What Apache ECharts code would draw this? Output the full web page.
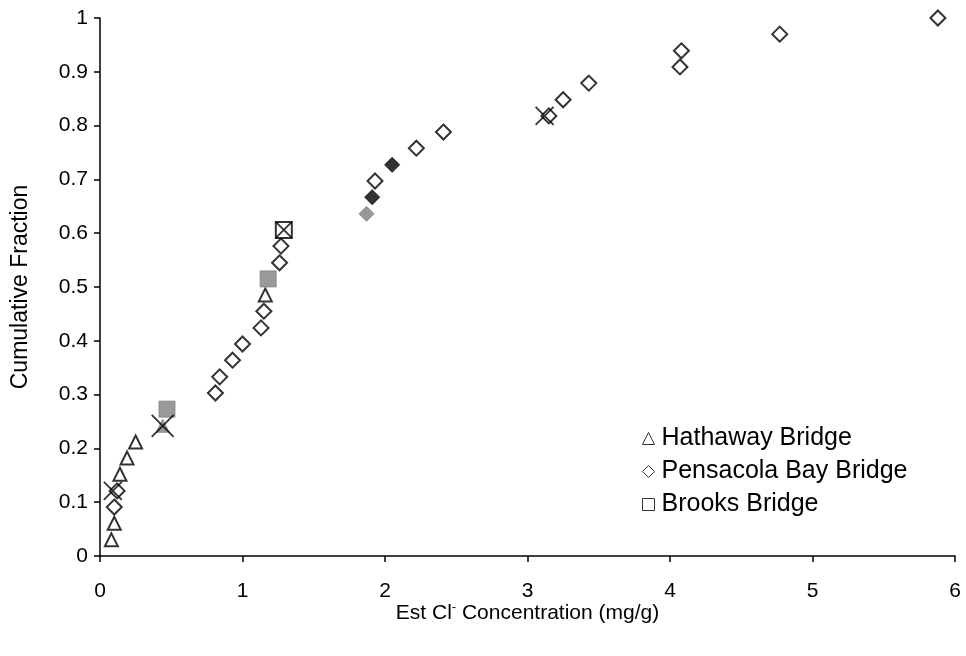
<!DOCTYPE html>
<html>
<head>
<meta charset="utf-8">
<script src="https://cdn.jsdelivr.net/npm/echarts@6/dist/echarts.min.js"></script>
<style>html,body{margin:0;padding:0;background:#fff}#c{width:966px;height:656px}</style>
</head>
<body>
<div id="c"></div>
<script>
// [x (mg/g), cumulative fraction, marker fill]
var hathaway = [
  [0.08, 0.030, 'open'], [0.10, 0.061, 'open'], [0.14, 0.152, 'open'],
  [0.19, 0.182, 'open'], [0.25, 0.212, 'open'], [0.44, 0.242, 'gray'],
  [1.16, 0.485, 'open']
];
var pensacola = [
  [0.10, 0.091, 'open'], [0.12, 0.121, 'open'], [0.81, 0.303, 'open'],
  [0.84, 0.333, 'open'], [0.93, 0.364, 'open'], [1.00, 0.394, 'open'],
  [1.13, 0.424, 'open'], [1.15, 0.455, 'open'], [1.26, 0.545, 'open'],
  [1.27, 0.576, 'open'], [1.87, 0.636, 'gray'], [1.91, 0.667, 'black'],
  [1.93, 0.697, 'open'], [2.05, 0.727, 'black'], [2.22, 0.758, 'open'],
  [2.41, 0.788, 'open'], [3.15, 0.818, 'open'], [3.25, 0.848, 'open'],
  [3.43, 0.879, 'open'], [4.07, 0.909, 'open'], [4.08, 0.939, 'open'],
  [4.77, 0.970, 'open'], [5.88, 1.000, 'open']
];
var brooks = [
  [0.47, 0.273, 'gray'], [1.18, 0.515, 'gray'], [1.29, 0.606, 'open']
];
var crosses = [
  [0.09, 0.121, 18], [0.44, 0.242, 22], [1.29, 0.606, 16], [3.12, 0.818, 18]
];
var xTicks = [0, 1, 2, 3, 4, 5, 6];
var yTicks = [0, 0.1, 0.2, 0.3, 0.4, 0.5, 0.6, 0.7, 0.8, 0.9, 1];

function styled(arr) {
  return arr.map(function (d) {
    var st;
    if (d[2] === 'gray') st = {color: '#808080', borderColor: '#808080', borderWidth: 1};
    else if (d[2] === 'black') st = {color: '#000', borderColor: '#000', borderWidth: 1};
    else st = {color: '#fff', borderColor: '#000', borderWidth: 2};
    return {value: [d[0], d[1]], itemStyle: st};
  });
}
var chart = echarts.init(document.getElementById('c'));
var font = 'Liberation Sans, Arial, sans-serif';
chart.setOption({
  animation: false,
  grid: {left: 100, right: 11, top: 18, bottom: 100},
  legend: {
    data: ['Hathaway Bridge', 'Pensacola Bay Bridge', 'Brooks Bridge'],
    orient: 'vertical', left: 642, top: 426, padding: 0,
    itemWidth: 12, itemHeight: 12, itemGap: 8,
    itemStyle: {borderWidth: 1},
    textStyle: {fontFamily: font, fontSize: 25, color: '#000', padding: [0, 0, 0, 2]}
  },
  xAxis: {
    type: 'value', min: xTicks[0], max: xTicks[xTicks.length - 1], interval: 1,
    splitLine: {show: false},
    axisLine: {lineStyle: {color: '#000', width: 1.5}},
    axisTick: {length: 6, lineStyle: {color: '#000', width: 1.5}},
    axisLabel: {fontFamily: font, fontSize: 21, color: '#000', margin: 25},
    name: '{a|Est Cl}{s|-}{a| Concentration (mg/g)}',
    nameLocation: 'middle', nameGap: 45, nameMoveOverlap: false,
    nameTextStyle: {
      rich: {
        a: {fontFamily: font, fontSize: 21, color: '#000', lineHeight: 24},
        s: {fontFamily: font, fontSize: 13, color: '#000', verticalAlign: 'top', lineHeight: 24, padding: [0, 0, 9, 0]}
      }
    }
  },
  yAxis: {
    type: 'value', min: yTicks[0], max: yTicks[yTicks.length - 1], interval: 0.1,
    splitLine: {show: false},
    axisLine: {show: true, lineStyle: {color: '#000', width: 1.5}},
    axisTick: {show: true, length: 6, lineStyle: {color: '#000', width: 1.5}},
    axisLabel: {fontFamily: font, fontSize: 21, color: '#000', margin: 12,
      formatter: function (v) { return String(Math.round(v * 10) / 10); }},
    name: 'Cumulative Fraction', nameLocation: 'middle', nameGap: 68, nameMoveOverlap: false,
    nameTextStyle: {fontFamily: font, fontSize: 23, color: '#000'}
  },
  series: [
    {name: 'Hathaway Bridge', type: 'scatter', symbol: 'triangle', symbolSize: [13, 13],
     itemStyle: {color: '#fff', borderColor: '#000', borderWidth: 2},
     data: styled(hathaway), z: 3},
    {name: 'Pensacola Bay Bridge', type: 'scatter', symbol: 'diamond', symbolSize: 15,
     itemStyle: {color: '#fff', borderColor: '#000', borderWidth: 2},
     data: styled(pensacola), z: 3},
    {name: 'Brooks Bridge', type: 'scatter', symbol: 'rect', symbolSize: 16,
     itemStyle: {color: '#fff', borderColor: '#000', borderWidth: 2},
     data: styled(brooks), z: 3},
    {name: 'x', type: 'scatter', symbol: 'path://M0,0L10,10M10,0L0,10',
     itemStyle: {color: 'none', borderColor: '#000', borderWidth: 1.8},
     data: crosses.map(function (d) { return {value: [d[0], d[1]], symbolSize: d[2]}; }), z: 4}
  ]
});
</script>
</body>
</html>
